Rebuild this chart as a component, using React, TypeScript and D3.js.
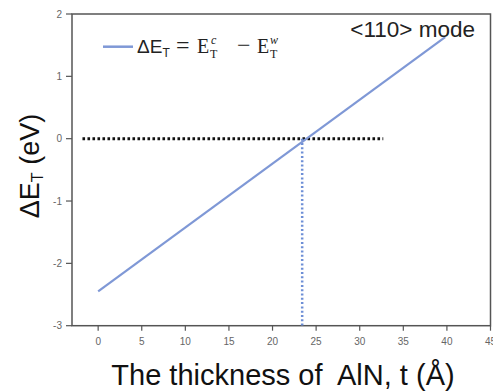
import React from "react";
import * as d3 from "d3";

const xTicks = [0, 5, 10, 15, 20, 25, 30, 35, 40, 45];
const yTicks = [-3, -2, -1, 0, 1, 2];
const lineT = [0, 39.8];
const lineDE = [-2.45, 1.63];
const zeroT = [-1.8, 32.7];
const zeroDE = [0, 0];
const crossT = [23.4, 23.4];
const crossDE = [0, -3];

const W = 493;
const H = 392;

export default function App() {
  const x = d3.scaleLinear().domain([-3, 45]).range([72, 490.5]);
  const y = d3.scaleLinear().domain([-3, 2]).range([325.7, 14]);
  const line = d3
    .line<number>()
    .x((d) => x(d))
    .y((_, i) => y(lineDE[i]));
  const zeroLine = d3
    .line<number>()
    .x((d) => x(d))
    .y((_, i) => y(zeroDE[i]));
  const crossLine = d3
    .line<number>()
    .x((d) => x(d))
    .y((_, i) => y(crossDE[i]));
  const axisColor = "#555";
  const tickColor = "#666";
  const blue = "#7f98d6";
  const sans = "Liberation Sans, Arial, sans-serif";
  const serif = "Liberation Serif, DejaVu Serif, serif";
  return (
    <svg
      width={W}
      height={H}
      style={{ position: "absolute", left: 0, top: 0, background: "#fff" }}
    >
      <rect
        x={x(-3)}
        y={y(2)}
        width={x(45) - x(-3)}
        height={y(-3) - y(2)}
        fill="none"
        stroke={axisColor}
        strokeWidth={1.5}
      />
      {xTicks.map((t) => (
        <g key={"x" + t}>
          <line
            x1={x(t)}
            x2={x(t)}
            y1={y(-3)}
            y2={y(-3) + 5}
            stroke={axisColor}
            strokeWidth={1.2}
          />
          <text
            x={x(t)}
            y={y(-3) + 19}
            textAnchor="middle"
            fontFamily={sans}
            fontSize={10}
            fill={tickColor}
          >
            {t}
          </text>
        </g>
      ))}
      {yTicks.map((t) => (
        <g key={"y" + t}>
          <line
            x1={x(-3) - 6}
            x2={x(-3)}
            y1={y(t)}
            y2={y(t)}
            stroke={axisColor}
            strokeWidth={1.2}
          />
          <text
            x={x(-3) - 10}
            y={y(t) + 3.5}
            textAnchor="end"
            fontFamily={sans}
            fontSize={10}
            fill={tickColor}
          >
            {t}
          </text>
        </g>
      ))}
      <path
        d={zeroLine(zeroT) || ""}
        stroke="#111"
        strokeWidth={3}
        strokeDasharray="2.6,2.4"
        fill="none"
      />
      <path
        d={crossLine(crossT) || ""}
        stroke="#6e8fd6"
        strokeWidth={2.5}
        strokeDasharray="2,2.3"
        fill="none"
      />
      <path d={line(lineT) || ""} stroke={blue} strokeWidth={2.2} fill="none" />
      {/* legend */}
      <line x1={103} x2={133} y1={46.7} y2={46.7} stroke={blue} strokeWidth={2.5} />
      <text x={137} y={52.5} fontFamily={sans} fontSize={19} fill="#222">
        ΔE
        <tspan fontSize={12} dy={4}>
          T
        </tspan>
      </text>
      <text x={176} y={53} fontFamily={serif} fontSize={24} fill="#222">
        =
      </text>
      <text x={197} y={52.5} fontFamily={serif} fontSize={20} fill="#222">
        E
      </text>
      <text x={211} y={44} fontFamily={serif} fontSize={12} fontStyle="italic" fill="#222">
        c
      </text>
      <text x={210} y={58} fontFamily={serif} fontSize={12} fill="#222">
        T
      </text>
      <text x={237} y={53} fontFamily={serif} fontSize={24} fill="#222">
        −
      </text>
      <text x={257} y={52.5} fontFamily={serif} fontSize={20} fill="#222">
        E
      </text>
      <text x={270} y={44} fontFamily={serif} fontSize={12} fontStyle="italic" fill="#222">
        w
      </text>
      <text x={270} y={58} fontFamily={serif} fontSize={12} fill="#222">
        T
      </text>
      <text
        x={475}
        y={36.5}
        textAnchor="end"
        fontFamily={sans}
        fontSize={22.5}
        fill="#222"
      >
        {"<110> mode"}
      </text>
      <text
        x={283}
        y={385}
        textAnchor="middle"
        fontFamily={sans}
        fontSize={29}
        fill="#111"
        style={{ whiteSpace: "pre" }}
      >
        {"The thickness of  AlN, t (Å)"}
      </text>
      <text
        transform={`translate(39,166) rotate(-90)`}
        textAnchor="middle"
        fontFamily={sans}
        fontSize={27}
        fill="#111"
      >
        ΔE
        <tspan fontSize={16} dy={4}>
          T
        </tspan>
        <tspan dy={-4}> (eV)</tspan>
      </text>
    </svg>
  );
}
